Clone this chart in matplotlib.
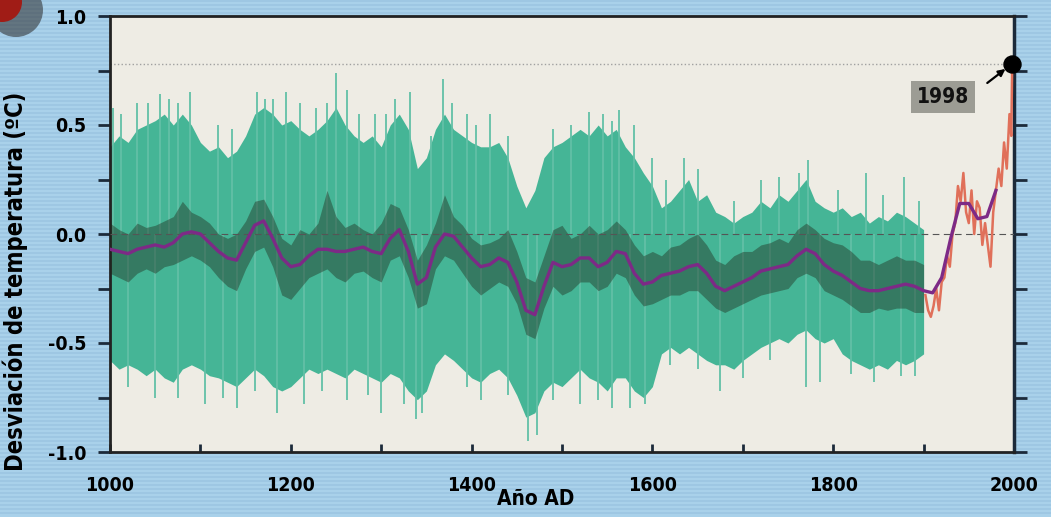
import numpy as np
import matplotlib.pyplot as plt
from matplotlib.patches import Circle

# ---- data ----
# uncertainty band body, every 10 years 1000-1900
band_years = np.arange(1000, 1901, 10)
band_hi = [0.40, 0.45, 0.42, 0.48, 0.50, 0.52, 0.55, 0.50, 0.55, 0.50,
           0.42, 0.38, 0.40, 0.35, 0.38, 0.45, 0.55, 0.58, 0.55, 0.50,
           0.52, 0.48, 0.45, 0.48, 0.52, 0.58, 0.50, 0.45, 0.42, 0.45,
           0.40, 0.50, 0.55, 0.48, 0.30, 0.35, 0.48, 0.55, 0.48, 0.45,
           0.42, 0.40, 0.40, 0.42, 0.35, 0.22, 0.12, 0.20, 0.35, 0.40,
           0.42, 0.45, 0.48, 0.45, 0.50, 0.45, 0.48, 0.40, 0.35, 0.28,
           0.22, 0.12, 0.15, 0.20, 0.25, 0.15, 0.18, 0.10, 0.08, 0.05,
           0.08, 0.10, 0.15, 0.12, 0.18, 0.15, 0.20, 0.25, 0.15, 0.12,
           0.10, 0.12, 0.08, 0.10, 0.05, 0.08, 0.06, 0.10, 0.08, 0.05,
           0.02]
band_lo = [-0.58, -0.62, -0.60, -0.62, -0.65, -0.62, -0.66, -0.68, -0.62, -0.60,
           -0.62, -0.65, -0.66, -0.68, -0.70, -0.66, -0.62, -0.65, -0.70, -0.72,
           -0.70, -0.66, -0.62, -0.64, -0.62, -0.64, -0.66, -0.62, -0.64, -0.66,
           -0.68, -0.64, -0.66, -0.72, -0.76, -0.72, -0.60, -0.55, -0.58, -0.62,
           -0.66, -0.68, -0.64, -0.62, -0.66, -0.74, -0.84, -0.82, -0.72, -0.68,
           -0.70, -0.66, -0.62, -0.66, -0.68, -0.72, -0.66, -0.66, -0.72, -0.75,
           -0.70, -0.55, -0.52, -0.55, -0.52, -0.55, -0.58, -0.60, -0.60, -0.62,
           -0.58, -0.55, -0.52, -0.50, -0.48, -0.50, -0.46, -0.44, -0.48, -0.50,
           -0.48, -0.55, -0.58, -0.60, -0.62, -0.60, -0.62, -0.58, -0.60, -0.58,
           -0.55]
# single-year spikes sticking out of the band
spike_up_years = [1003, 1012, 1030, 1042, 1055, 1065, 1075, 1088, 1120, 1135,
                  1163, 1172, 1180, 1195, 1210, 1228, 1240, 1250, 1262, 1275,
                  1293, 1305, 1315, 1332, 1355, 1368, 1378, 1395, 1405, 1420,
                  1440, 1490, 1510, 1530, 1545, 1555, 1563, 1580, 1600, 1615,
                  1635, 1650, 1690, 1720, 1740, 1762, 1772, 1805, 1836, 1855,
                  1878, 1895]
spike_up_vals = [0.58, 0.55, 0.60, 0.60, 0.64, 0.62, 0.60, 0.65, 0.50, 0.48,
                 0.65, 0.62, 0.62, 0.65, 0.60, 0.58, 0.60, 0.74, 0.66, 0.55,
                 0.55, 0.55, 0.62, 0.65, 0.45, 0.71, 0.60, 0.55, 0.50, 0.55,
                 0.45, 0.48, 0.50, 0.56, 0.55, 0.52, 0.57, 0.50, 0.35, 0.25,
                 0.35, 0.30, 0.15, 0.25, 0.26, 0.28, 0.34, 0.20, 0.28, 0.18,
                 0.26, 0.15]
spike_dn_years = [1020, 1050, 1075, 1105, 1125, 1140, 1160, 1185, 1215, 1235,
                  1262, 1285, 1300, 1325, 1338, 1345, 1395, 1410, 1440, 1462,
                  1472, 1490, 1520, 1540, 1555, 1575, 1592, 1620, 1650, 1675,
                  1700, 1730, 1770, 1785, 1820, 1845, 1875, 1890]
spike_dn_vals = [-0.70, -0.75, -0.75, -0.78, -0.75, -0.80, -0.72, -0.82, -0.78, -0.72,
                 -0.76, -0.74, -0.82, -0.78, -0.85, -0.82, -0.70, -0.76, -0.74, -0.95,
                 -0.92, -0.76, -0.78, -0.76, -0.80, -0.80, -0.78, -0.60, -0.62, -0.72,
                 -0.66, -0.58, -0.70, -0.68, -0.64, -0.68, -0.65, -0.65]

# annual reconstruction range (dark), every 10 years 1000-1900
recon_hi = [0.05, 0.02, 0.00, 0.05, 0.03, 0.04, 0.06, 0.08, 0.15, 0.10,
            0.08, 0.05, 0.00, -0.02, 0.00, 0.06, 0.15, 0.16, 0.08, -0.02,
            -0.05, 0.02, 0.00, 0.05, 0.20, 0.08, 0.03, 0.05, 0.02, 0.00,
            0.05, 0.14, 0.12, 0.02, -0.12, -0.05, 0.05, 0.18, 0.08, 0.04,
            -0.02, -0.05, -0.04, -0.02, 0.02, -0.08, -0.20, -0.22, -0.10, 0.02,
            0.04, -0.02, 0.00, 0.04, 0.00, 0.02, 0.06, 0.02, -0.05, -0.10,
            -0.08, -0.10, -0.06, -0.05, -0.02, 0.00, -0.05, -0.12, -0.14, -0.10,
            -0.08, -0.08, -0.05, -0.04, -0.02, -0.04, 0.02, 0.05, 0.02, -0.02,
            -0.04, -0.05, -0.08, -0.12, -0.12, -0.14, -0.12, -0.10, -0.12, -0.12,
            -0.14]
recon_lo = [-0.18, -0.20, -0.22, -0.18, -0.16, -0.18, -0.15, -0.14, -0.12, -0.10,
            -0.12, -0.15, -0.20, -0.24, -0.26, -0.16, -0.08, -0.06, -0.15, -0.28,
            -0.30, -0.25, -0.20, -0.18, -0.16, -0.20, -0.22, -0.18, -0.17, -0.20,
            -0.22, -0.12, -0.10, -0.20, -0.34, -0.32, -0.16, -0.10, -0.12, -0.18,
            -0.24, -0.28, -0.25, -0.22, -0.24, -0.32, -0.46, -0.48, -0.34, -0.24,
            -0.28, -0.26, -0.22, -0.22, -0.26, -0.24, -0.18, -0.20, -0.28, -0.33,
            -0.32, -0.30, -0.28, -0.28, -0.26, -0.26, -0.30, -0.34, -0.36, -0.34,
            -0.32, -0.30, -0.28, -0.27, -0.26, -0.25, -0.20, -0.18, -0.20, -0.26,
            -0.28, -0.30, -0.33, -0.36, -0.36, -0.34, -0.35, -0.34, -0.34, -0.36,
            -0.36]

# 40-year smoothed reconstruction, every 10 years 1000-1980
smooth_years = np.arange(1000, 1981, 10)
smooth_vals = [-0.07, -0.08, -0.09, -0.07, -0.06, -0.05, -0.06, -0.04, 0.00, 0.01,
               0.00, -0.04, -0.08, -0.11, -0.12, -0.04, 0.04, 0.06, -0.02, -0.11,
               -0.15, -0.14, -0.10, -0.07, -0.07, -0.08, -0.08, -0.07, -0.06, -0.08,
               -0.09, -0.02, 0.02, -0.08, -0.23, -0.20, -0.06, 0.00, -0.01, -0.06,
               -0.11, -0.15, -0.14, -0.11, -0.13, -0.22, -0.35, -0.37, -0.24, -0.13,
               -0.15, -0.14, -0.11, -0.11, -0.15, -0.13, -0.08, -0.09, -0.18, -0.23,
               -0.22, -0.19, -0.18, -0.17, -0.15, -0.14, -0.18, -0.24, -0.26, -0.24,
               -0.22, -0.20, -0.17, -0.16, -0.15, -0.14, -0.10, -0.07, -0.09, -0.14,
               -0.17, -0.19, -0.22, -0.25, -0.26, -0.26, -0.25, -0.24, -0.23, -0.24,
               -0.26, -0.27, -0.20, -0.02, 0.14, 0.14, 0.07, 0.08, 0.20]

# instrumental record
instr_years = [1902, 1905, 1908, 1911, 1914, 1917, 1920, 1923, 1926, 1929,
               1932, 1935, 1938, 1941, 1944, 1947, 1950, 1953, 1956, 1959,
               1962, 1965, 1968, 1971, 1974, 1977, 1980, 1983, 1986, 1989,
               1992, 1995, 1997, 1998]
instr_vals = [-0.28, -0.35, -0.38, -0.33, -0.25, -0.35, -0.22, -0.20, -0.10, -0.15,
              0.00, 0.05, 0.22, 0.15, 0.28, 0.10, 0.05, 0.20, 0.00, 0.15,
              0.12, -0.05, 0.05, -0.05, -0.15, 0.10, 0.20, 0.30, 0.22, 0.42,
              0.30, 0.55, 0.45, 0.78]

peak_year = 1998
peak_val = 0.78

plt.rcParams['font.family'] = ['DejaVu Sans']
plt.rcParams['font.stretch'] = 'condensed'
plt.rcParams['font.weight'] = 'bold'

fig = plt.figure(figsize=(10.51, 5.17), dpi=100)
fig.patch.set_facecolor('#a9d1ea')

# striped blue background + logo corner
bg = fig.add_axes([0, 0, 1, 1], zorder=-10)
bg.set_xlim(0, 1051)
bg.set_ylim(517, 0)
bg.axis('off')
bg.hlines(np.arange(1, 517, 4), 0, 1051, color='#9cc6e2', lw=1.2, zorder=1)
bg.add_patch(Circle((16, 10), 27, color='#2a2a2a', alpha=0.55, lw=0, zorder=3))
bg.add_patch(Circle((2, 2), 20, color='#a01c16', lw=0, zorder=4))

ax = fig.add_axes([110 / 1051, 1 - 452 / 517, 904 / 1051, 436 / 517])
ax.set_facecolor('#eeece4')

# uncertainty band
ax.fill_between(band_years, band_lo, band_hi, color='#45b596', lw=0, zorder=2)
ax.vlines(spike_up_years, 0, spike_up_vals, color='#62c0a6', lw=1.3, zorder=2)
ax.vlines(spike_dn_years, spike_dn_vals, 0, color='#62c0a6', lw=1.3, zorder=2)

# annual reconstruction
ax.fill_between(band_years, recon_lo, recon_hi, color='#1f2a1a', alpha=0.42, lw=0, zorder=3)

# instrumental + smooth
ax.plot(instr_years, instr_vals, color='#e0705a', lw=1.8, zorder=4)
ax.plot(smooth_years, smooth_vals, color='#7d2a86', lw=2.4, zorder=5)

# reference lines
ax.axhline(0, color='#555555', lw=0.8, dashes=(6, 4), zorder=3.5)
ax.axhline(peak_val, color='#a0a0a0', lw=1.0, ls=':', zorder=1)

# 1998 marker
ax.scatter([peak_year], [peak_val], s=150, color='black', zorder=10, clip_on=False)
ax.annotate('', xy=(1993, 0.765), xytext=(1968, 0.685),
            arrowprops=dict(arrowstyle='-|>', color='black', lw=1.6), zorder=10)
ax.text(1921.5, 0.628, '1998', ha='center', va='center', fontsize=15, color='#111111',
        bbox=dict(boxstyle='square,pad=0.3', facecolor='#9c9c94', edgecolor='none'), zorder=10)

ax.set_xlim(1000, 2000)
ax.set_ylim(-1.0, 1.0)

ax.set_yticks([-1.0, -0.5, 0.0, 0.5, 1.0])
ax.set_yticks([-0.75, -0.25, 0.25, 0.75], minor=True)
ax.set_yticklabels(['-1.0', '-0.5', '0.0', '0.5', '1.0'])
ax.set_xticks([1000, 1200, 1400, 1600, 1800, 2000])
ax.set_xticks([1100, 1300, 1500, 1700, 1900], minor=True)
ax.tick_params(axis='y', which='both', direction='out', length=9, width=2,
               color='#1c2a3a', right=True, labelsize=14, pad=8)
ax.tick_params(axis='x', which='both', direction='in', length=6, width=2,
               color='#1c2a3a', labelsize=14, pad=17)

for s in ax.spines.values():
    s.set_color('#222222')
    s.set_linewidth(2)
ax.spines['right'].set_linewidth(2.5)
ax.spines['right'].set_color('#1c2a3a')

fig.text(536 / 1051, 1 - 499 / 517, 'Año AD', ha='center', va='center', fontsize=15)
fig.text(15 / 1051, 1 - 281 / 517, 'Desviación de temperatura (ºC)', ha='center',
         va='center', rotation=90, fontsize=17)

fig.savefig('out.png', dpi=100, facecolor=fig.get_facecolor())
